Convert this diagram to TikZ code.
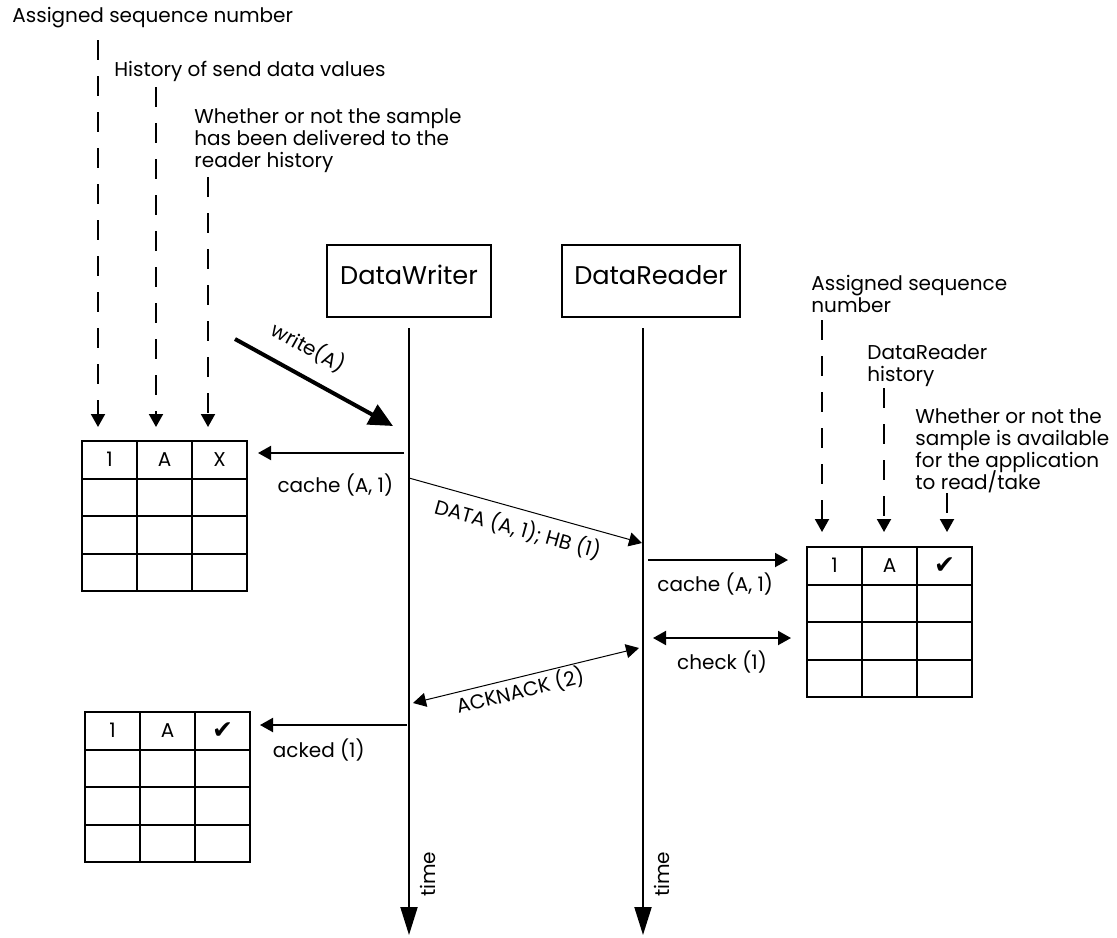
\documentclass[tikz,border=0pt]{standalone}
\usepackage{fontspec}
\setmainfont{Poppins}
\newfontfamily\symfont{DejaVu Sans}
\usetikzlibrary{arrows.meta}
\newcommand{\chk}{{\symfont\fontsize{12.5}{12.5}\selectfont ✔}}
\newcommand{\notefont}{\fontsize{10}{11}\selectfont\lineskiplimit=-10pt\relax}

\begin{document}
\begin{tikzpicture}[x=0.5pt, y=-0.5pt, >={Triangle[length=6.5pt, width=7pt]}]
    \tikzstyle{every node}=[font=\notefont, inner sep=1pt, text=black]
    \tikzstyle{cell}=[draw, line width=1pt, minimum width=27.5pt, minimum height=18.75pt, inner sep=0pt]
    \tikzstyle{actor}=[draw, line width=1pt, minimum height=36pt, font=\fontsize{12.8}{15}\selectfont, text depth=6pt]
    \tikzstyle{life}=[line width=1pt, -{Triangle[length=14pt, width=8.5pt]}]
    \tikzstyle{msg}=[line width=1pt, ->]
    \tikzstyle{sig}=[line width=0.5pt]
    \tikzstyle{note}=[line width=1pt, dash pattern=on 10pt off 8pt, ->]
    \tikzstyle{info}=[align=left, anchor=north west]
    \tikzstyle{clock}=[anchor=north, rotate=90, inner sep=5pt]

    \useasboundingbox (0,0) rectangle (1117,937);

    \node[actor, minimum width=82pt] (dw) at (409,281) {DataWriter};
    \node[actor, minimum width=89pt] (dr) at (651,281) {DataReader};

    \coordinate (wt) at (409,328);
    \coordinate (wb) at (409,935);
    \coordinate (rt) at (643,328);
    \coordinate (rb) at (643,935);
    \draw[life] (wt) -- (wb) node[pos=0.9, clock] (wtime) {time};
    \draw[life] (rt) -- (rb) node[pos=0.9, clock] (rtime) {time};

    % sample caches
    \foreach \t/\x/\y/\m in {wc/82/441/X, rc/807/547/\chk, ak/85/712/\chk} {
        \foreach \c/\v in {1/1, 2/A, 3/\m}
            \node[cell] (\t1\c) at ({\x+27.5+55*(\c-1)},{\y+18.75}) {\v};
        \foreach \r in {2,3,4}
            \foreach \c in {1,2,3}
                \node[cell] (\t\r\c) at ({\x+27.5+55*(\c-1)},{\y+18.75+37.5*(\r-1)}) {};
    }

    % notes, writer side
    \node[anchor=west] (wseq) at (10,18) {Assigned sequence number};
    \node[anchor=west] (wval) at (112,71) {History of send data values};
    \node[info] (wdel) at (192,106) {Whether or not the sample\\has been delivered to the\\reader history};
    \foreach \i/\x/\y in {1/98/40, 2/156/87, 3/208/177} {
        \coordinate (wfrom\i) at (\x,\y);
        \coordinate (wto\i) at (\x,427);
        \draw[note] (wfrom\i) -- (wto\i);
    }

    % notes, reader side
    \node[info] (rseq) at (809,273) {Assigned sequence\\number};
    \node[info] (rhist) at (865,342) {DataReader\\history};
    \node[info] (ravail) at (913,406) {Whether or not the\\sample is available\\for the application\\to read/take};
    \foreach \i/\x/\y in {1/822/320, 2/884/388, 3/947/493} {
        \coordinate (rfrom\i) at (\x,\y);
        \coordinate (rto\i) at (\x,532);
        \draw[note] (rfrom\i) -- (rto\i);
    }

    % messages
    \coordinate (ws) at (235,339);
    \coordinate (we) at (393,426);
    \draw[line width=2pt, -{Triangle[length=12pt, width=11pt]}] (ws) -- (we)
        node[pos=0.38, sloped, above=6.5pt] (wlbl) {write(A)};

    \coordinate (c1s) at (404,453);
    \coordinate (c1e) at (258,453);
    \draw[msg] (c1s) -- (c1e) node[pos=0.47, below=9pt] (c1lbl) {cache (A, 1)};

    \coordinate (ds) at (409,478);
    \coordinate (de) at (642,543);
    \draw[sig, ->] (ds) -- (de) node[pos=0.49, sloped, below=3pt] (dlbl) {DATA (A, 1); HB (1)};

    \coordinate (c2s) at (648,560);
    \coordinate (c2e) at (788,560);
    \draw[msg] (c2s) -- (c2e) node[pos=0.48, below=5pt] (c2lbl) {cache (A, 1)};

    \coordinate (ks) at (653,638);
    \coordinate (ke) at (791,638);
    \draw[msg, <->] (ks) -- (ke) node[pos=0.5, below=5pt] (klbl) {check (1)};

    \coordinate (as) at (413,703);
    \coordinate (ae) at (639,648);
    \draw[sig, <->] (as) -- (ae) node[pos=0.46, sloped, below=0pt] (albl) {ACKNACK (2)};

    \coordinate (ks2) at (407,725);
    \coordinate (ke2) at (260,725);
    \draw[msg] (ks2) -- (ke2) node[pos=0.6, below=5.5pt] (klbl2) {acked (1)};
\end{tikzpicture}
\end{document}
